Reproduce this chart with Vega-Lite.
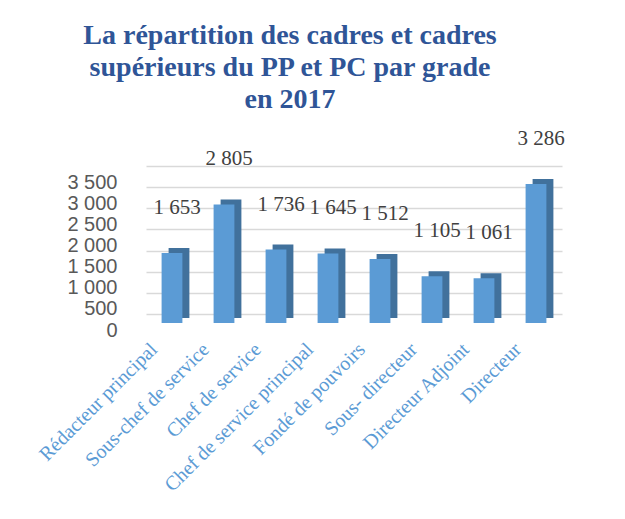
{
  "$schema": "https://vega.github.io/schema/vega-lite/v6.json",
  "autosize": {"type": "none"},
  "padding": {"left": 146, "top": 166, "right": 63, "bottom": 205},
  "width": 416,
  "height": 148,
  "background": "white",
  "config": {
    "view": {"stroke": null},
    "locale": {"number": {"decimal": ",", "thousands": " ", "grouping": [3], "currency": ["", " €"]}}
  },
  "title": {
    "text": ["La répartition des cadres et cadres", "supérieurs du PP et PC par grade", "en 2017"],
    "font": "Liberation Serif",
    "fontSize": 28,
    "fontWeight": "bold",
    "color": "#2F5597",
    "lineHeight": 32,
    "anchor": "middle",
    "frame": "group",
    "dx": -64,
    "offset": 14
  },
  "data": {
    "values": [
      {"grade": "Rédacteur principal", "effectif": 1653},
      {"grade": "Sous-chef de service", "effectif": 2805},
      {"grade": "Chef de service", "effectif": 1736},
      {"grade": "Chef de service principal", "effectif": 1645},
      {"grade": "Fondé de pouvoirs", "effectif": 1512},
      {"grade": "Sous- directeur", "effectif": 1105},
      {"grade": "Directeur Adjoint", "effectif": 1061},
      {"grade": "Directeur", "effectif": 3286}
    ]
  },
  "encoding": {
    "x": {
      "field": "grade",
      "type": "nominal",
      "sort": null,
      "scale": {"paddingInner": 0.6, "paddingOuter": 0.3},
      "axis": {
        "title": null,
        "labelAngle": -45,
        "labelFont": "Liberation Serif",
        "labelFontSize": 20,
        "labelColor": "#5B9BD5",
        "labelPadding": 25,
        "labelOffset": -25,
        "labelLimit": 300,
        "ticks": false,
        "tickSize": 0,
        "domain": false,
        "grid": false
      }
    },
    "y": {
      "field": "effectif",
      "type": "quantitative",
      "scale": {"domain": [0, 3500], "nice": false},
      "axis": {
        "title": null,
        "values": [0, 500, 1000, 1500, 2000, 2500, 3000, 3500],
        "format": ",d",
        "labelFont": "Liberation Sans",
        "labelFontSize": 20,
        "labelColor": "#595959",
        "labelPadding": 29,
        "labelOffset": 16,
        "ticks": false,
        "tickSize": 0,
        "domain": false,
        "grid": true,
        "gridColor": "#D9D9D9",
        "gridWidth": 1.5
      }
    }
  },
  "layer": [
    {
      "mark": {"type": "bar", "color": "#41719C", "xOffset": 7, "yOffset": 4}
    },
    {
      "mark": {"type": "bar", "color": "#5B9BD5", "yOffset": 9}
    },
    {
      "mark": {"type": "text", "font": "Liberation Serif", "fontSize": 21, "color": "#404040", "dy": -36, "xOffset": 5, "baseline": "middle"},
      "encoding": {
        "text": {"field": "effectif", "type": "quantitative", "format": ",d"}
      }
    }
  ]
}
